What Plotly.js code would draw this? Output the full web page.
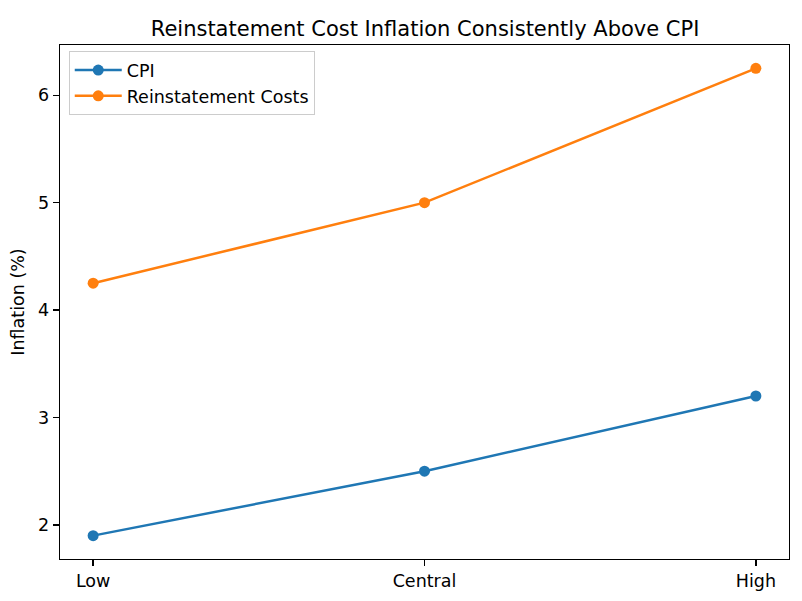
<!DOCTYPE html>
<html>
<head>
<meta charset="utf-8">
<script src="https://cdn.plot.ly/plotly-3.0.1.min.js"></script>
<style>html,body{margin:0;padding:0;background:#fff;}#chart{width:802px;height:601px;}</style>
</head>
<body>
<div id="chart"></div>
<script>
const scenarios = ["Low", "Central", "High"];
const cpi = [1.9, 2.5, 3.2];
const reinstatement = [4.25, 5.0, 6.25];

const font = "DejaVu Sans, sans-serif";
const traces = [
  {x: [0,1,2], y: cpi, name: "CPI", type: "scatter", mode: "lines+markers",
   line: {color: "#1f77b4", width: 2.5}, marker: {color: "#1f77b4", size: 11}},
  {x: [0,1,2], y: reinstatement, name: "Reinstatement Costs", type: "scatter", mode: "lines+markers",
   line: {color: "#ff7f0e", width: 2.5}, marker: {color: "#ff7f0e", size: 11}}
];
const layout = {
  width: 802, height: 601,
  margin: {l: 60, r: 13, t: 45, b: 42},
  paper_bgcolor: "#fff", plot_bgcolor: "#fff",
  font: {family: font, size: 17.5, color: "#000"},
  title: {text: "Reinstatement Cost Inflation Consistently Above CPI", font: {family: font, size: 21, color: "#000"},
          x: 0.53, xanchor: "center", y: 0.953, yanchor: "middle"},
  showlegend: true,
  legend: {x: 0.012, y: 0.988, xanchor: "left", yanchor: "top", bgcolor: "rgba(255,255,255,0.8)",
           bordercolor: "#cccccc", borderwidth: 1, font: {family: font, size: 17.5}, itemwidth: 47,
           tracegroupgap: 0},
  xaxis: {range: [-0.1, 2.1], tickvals: [0,1,2], ticktext: scenarios, showgrid: false, zeroline: false,
          showline: true, linecolor: "#000", linewidth: 1.3, mirror: true, ticks: "outside", ticklen: 6,
          tickcolor: "#000", tickwidth: 1.3, tickfont: {family: font, size: 17.5}},
  yaxis: {range: [1.6825, 6.4675], tickvals: [2,3,4,5,6], showgrid: false, zeroline: false,
          showline: true, linecolor: "#000", linewidth: 1.3, mirror: true, ticks: "outside", ticklen: 6,
          tickcolor: "#000", tickwidth: 1.3, tickfont: {family: font, size: 17.5},
          title: {text: "Inflation (%)", font: {family: font, size: 17.5}, standoff: 9}}
};
Plotly.newPlot("chart", traces, layout, {displayModeBar: false, staticPlot: true});
</script>
</body>
</html>
